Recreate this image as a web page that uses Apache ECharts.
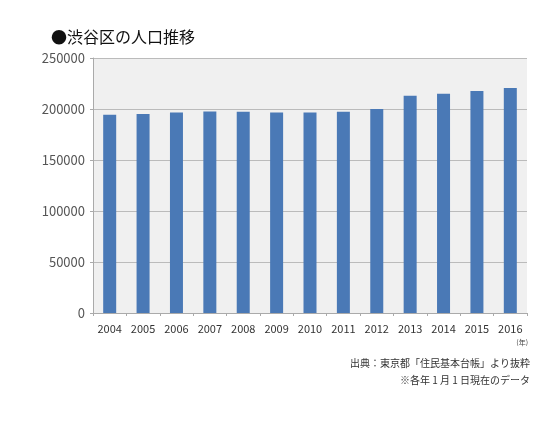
<!DOCTYPE html>
<html><head><meta charset="utf-8">
<script src="https://cdn.jsdelivr.net/npm/echarts@6/dist/echarts.min.js"></script>
<style>html,body{margin:0;padding:0;background:#fff;}#c{width:550px;height:434px;}</style>
</head><body><div id="c"></div>
<script>
const categories = ['2004','2005','2006','2007','2008','2009','2010','2011','2012','2013','2014','2015','2016'];
const population = [194300,195000,196600,197600,197300,196600,196600,197300,199900,213000,214900,217600,220500];
const yTicks = [0,50000,100000,150000,200000,250000];
const titleText = '●渋谷区の人口推移';
const unitText = '(年)';
const sourceText = '出典：東京都「住民基本台帳」より抜粋';
const noteText = '※各年 1 月 1 日現在のデータ';

const FONT = '"Noto Sans CJK JP", "Noto Sans", sans-serif';
const chart = echarts.init(document.getElementById('c'));
chart.setOption({
  animation: false,
  backgroundColor: '#fff',
  title: {
    text: titleText, left: 46, top: 24,
    textStyle: {fontFamily: FONT, fontSize: 16, fontWeight: 'normal', color: '#111'}
  },
  grid: {left: 93, right: 23, top: 58, bottom: 121, show: true, backgroundColor: '#f0f0f0', borderWidth: 0},
  xAxis: {
    type: 'category', data: categories,
    axisLine: {show: true, lineStyle: {color: '#aaa'}},
    axisTick: {show: true, length: 3, lineStyle: {color: '#aaa'}},
    axisLabel: {fontFamily: FONT, fontSize: 11, color: '#333', margin: 10}
  },
  yAxis: {
    type: 'value', min: yTicks[0], max: yTicks[yTicks.length-1], interval: 50000,
    axisLine: {show: true, lineStyle: {color: '#aaa'}},
    axisTick: {show: true, length: 3, lineStyle: {color: '#aaa'}},
    splitLine: {show: true, lineStyle: {color: '#bbb'}},
    axisLabel: {fontFamily: FONT, fontSize: 13, color: '#555', margin: 8, formatter: v => String(v)}
  },
  series: [{
    type: 'bar', data: population, barWidth: 13,
    itemStyle: {color: '#4a79b6'}
  }],
  graphic: [
    {type: 'text', right: 22, top: 339, style: {text: unitText, font: '7px ' + FONT, fill: '#444'}},
    {type: 'text', right: 20, top: 358, style: {text: sourceText, font: '10px ' + FONT, fill: '#333'}},
    {type: 'text', right: 20, top: 375, style: {text: noteText, font: '10px ' + FONT, fill: '#333'}}
  ]
});
</script></body></html>
